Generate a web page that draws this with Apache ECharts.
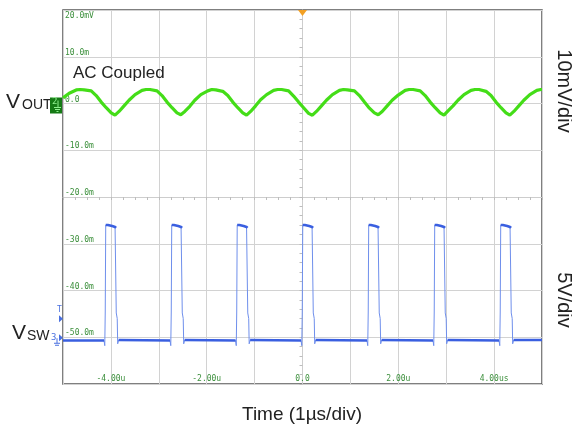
<!DOCTYPE html>
<html><head><meta charset="utf-8">
<script src="https://cdn.jsdelivr.net/npm/echarts@6/dist/echarts.min.js"></script>
<style>html,body{margin:0;padding:0;background:#fff}#c{width:572px;height:433px}</style>
</head><body><div id="c"></div>
<script>
// ---- data ----
const yTickValues = [20, 10, 0, -10, -20, -30, -40, -50];
const yTickLabels = ['20.0mV', '10.0m', '0.0', '-10.0m', '-20.0m', '-30.0m', '-40.0m', '-50.0m'];
const xTickValues = [-4, -2, 0, 2, 4];
const xTickLabels = ['-4.00u', '-2.00u', '0.0', '2.00u', '4.00us'];

// VOUT (channel 2, AC coupled), time in µs, value in mV
const vOutTime = [
  -5.000,-4.870,-4.724,-4.641,-4.557,-4.411,-4.307,-4.202,-4.098,-3.994,
  -3.914,-3.830,-3.726,-3.622,-3.496,-3.350,-3.267,-3.183,-3.037,-2.933,-2.828,-2.724,-2.620,
  -2.541,-2.457,-2.353,-2.249,-2.123,-1.977,-1.894,-1.810,-1.664,-1.560,-1.455,-1.351,-1.247,
  -1.167,-1.083,-0.979,-0.875,-0.749,-0.603,-0.520,-0.436,-0.290,-0.186,-0.081,0.023,0.127,
  0.207,0.291,0.395,0.499,0.625,0.771,0.854,0.938,1.084,1.188,1.293,1.397,1.501,
  1.580,1.664,1.768,1.872,1.998,2.144,2.227,2.311,2.457,2.561,2.666,2.770,2.874,
  2.954,3.038,3.142,3.246,3.372,3.518,3.601,3.685,3.831,3.935,4.040,4.144,4.248,
  4.328,4.412,4.516,4.620,4.746,4.892,4.975,5.000
];
const vOutMv = [
  1.2,2.2,2.9,3.0,2.9,2.7,1.7,0.3,-0.9,-2.0,
  -2.5,-1.7,-0.5,0.7,1.9,2.8,3.0,3.0,2.7,1.7,0.3,-0.9,-2.0,
  -2.4,-1.7,-0.6,0.7,1.9,2.7,3.0,2.9,2.6,1.7,0.3,-0.9,-2.0,
  -2.5,-1.7,-0.5,0.8,1.9,2.8,3.0,3.0,2.7,1.6,0.3,-0.9,-2.1,
  -2.5,-1.7,-0.5,0.7,1.9,2.8,3.0,2.9,2.7,1.7,0.3,-1.0,-2.0,
  -2.4,-1.7,-0.5,0.7,1.8,2.8,3.0,3.0,2.7,1.7,0.3,-0.9,-2.0,
  -2.5,-1.6,-0.5,0.7,1.9,2.8,3.0,3.0,2.6,1.7,0.3,-0.9,-2.0,
  -2.5,-1.7,-0.5,0.7,1.9,2.8,3.0,3.0
];

// VSW (channel 3), time in µs, value in V (5 V/div, ground on the -50 line)
const vswTime = [
  -5.000,
  -4.143,-4.128,-4.118,-4.108,-4.063,-4.023,-3.973,-3.913,-3.893,-3.888,-3.868,-3.858,-3.838,
  -2.765,-2.750,-2.740,-2.730,-2.685,-2.645,-2.595,-2.535,-2.515,-2.510,-2.490,-2.480,-2.460,
  -1.398,-1.383,-1.373,-1.363,-1.318,-1.278,-1.228,-1.168,-1.148,-1.143,-1.123,-1.113,-1.093,
  -0.030,-0.015,-0.005,0.005,0.050,0.090,0.140,0.200,0.220,0.225,0.245,0.255,0.275,
  1.347,1.362,1.372,1.382,1.427,1.467,1.517,1.577,1.597,1.602,1.622,1.632,1.652,
  2.725,2.740,2.750,2.760,2.805,2.845,2.895,2.955,2.975,2.980,3.000,3.010,3.030,
  4.103,4.118,4.128,4.138,4.183,4.223,4.273,4.333,4.353,4.358,4.378,4.388,4.408,
  5.000
];
const vswVolt = [
  -0.35,
  -0.35,-0.9,2.7,12.0,12.0,11.9,11.9,11.8,11.7,2.6,2.0,-0.7,-0.3,
  -0.35,-0.9,2.7,12.0,12.0,11.9,11.9,11.8,11.7,2.6,2.0,-0.7,-0.3,
  -0.35,-0.9,2.7,12.0,12.0,11.9,11.9,11.8,11.7,2.6,2.0,-0.7,-0.3,
  -0.35,-0.9,2.7,12.0,12.0,11.9,11.9,11.8,11.7,2.6,2.0,-0.7,-0.3,
  -0.35,-0.9,2.7,12.0,12.0,11.9,11.9,11.8,11.7,2.6,2.0,-0.7,-0.3,
  -0.35,-0.9,2.7,12.0,12.0,11.9,11.9,11.8,11.7,2.6,2.0,-0.7,-0.3,
  -0.35,-0.9,2.7,12.0,12.0,11.9,11.9,11.8,11.7,2.6,2.0,-0.7,-0.3,
  -0.3
];

// ---- build series data ----
const vOutData = vOutTime.map((t, i) => [t, vOutMv[i]]);
const vswData = vswTime.map((t, i) => [t, vswVolt[i]]);
// flat portions (low level and pulse tops) drawn thicker, edges thin
const isFlat = v => (v > -0.6 && v < 0.5) || v > 10;
const vswFlat = [];
for (let i = 0; i < vswData.length; i++) {
  const f = isFlat(vswData[i][1]);
  if (f) vswFlat.push(vswData[i]);
  else if (vswFlat.length && vswFlat[vswFlat.length - 1] !== null) vswFlat.push(null);
}
for (let i = 0; i < vswFlat.length; i++) {
  if (vswFlat[i] && vswFlat[i+1] && Math.abs(vswFlat[i][1] - vswFlat[i+1][1]) > 5) vswFlat.splice(i+1, 0, null);
}

const tickFont = {fontFamily: 'DejaVu Sans Mono', fontSize: 8, color: '#3b8f3b'};
const gridLine = {show: true, lineStyle: {color: '#d2d2d2', width: 1}};

const chart = echarts.init(document.getElementById('c'), null, {renderer: 'canvas'});
chart.setOption({
  animation: false,
  backgroundColor: '#fff',
  grid: {left: 63, top: 10, right: 30, bottom: 49, show: true, borderColor: '#555', borderWidth: 1.5},
  xAxis: [
    {type: 'value', min: -5, max: 5, interval: 1,
     axisLine: {show: false, onZero: false}, axisTick: {show: false}, splitLine: gridLine,
     axisLabel: Object.assign({inside: true, margin: 1, showMinLabel: false, showMaxLabel: false,
       formatter: v => { const i = xTickValues.indexOf(v); return i >= 0 ? xTickLabels[i] : ''; }}, tickFont)},
    {type: 'value', min: -5, max: 5, interval: 1,
     axisLine: {show: true, onZero: true, onZeroAxisIndex: 2, lineStyle: {color: '#cdcdcd', width: 1}},
     axisTick: {show: true, inside: true, length: 3, lineStyle: {color: '#bdbdbd'}},
     minorTick: {show: true, splitNumber: 4, length: 3, lineStyle: {color: '#bdbdbd'}},
     axisLabel: {show: false}, splitLine: {show: false}}
  ],
  yAxis: [
    {type: 'value', min: -60, max: 20, interval: 10,
     axisLine: {show: false, onZero: false}, axisTick: {show: false}, splitLine: gridLine,
     axisLabel: Object.assign({inside: true, margin: 2, verticalAlign: 'bottom', showMaxLabel: false, showMinLabel: false,
       formatter: v => { const i = yTickValues.indexOf(v); return (i > 0) ? yTickLabels[i] : ''; }}, tickFont)},
    {type: 'value', min: -5, max: 35, show: false},
    {type: 'value', min: -4, max: 4, interval: 1,
     axisLine: {show: true, onZero: true, onZeroAxisIndex: 0, lineStyle: {color: '#cdcdcd', width: 1}},
     axisTick: {show: true, inside: true, length: 3, lineStyle: {color: '#bdbdbd'}},
     minorTick: {show: true, splitNumber: 5, length: 3, lineStyle: {color: '#bdbdbd'}},
     axisLabel: {show: false}, splitLine: {show: false}}
  ],
  series: [
    {type: 'line', name: 'VSW edges', xAxisIndex: 0, yAxisIndex: 1, data: vswData, showSymbol: false,
     lineStyle: {color: '#6f8fec', width: 1}, z: 3},
    {type: 'line', name: 'VSW', xAxisIndex: 0, yAxisIndex: 1, data: vswFlat, showSymbol: false, connectNulls: false,
     lineStyle: {color: '#3a5fe0', width: 2.6}, z: 4},
    {type: 'line', name: 'VOUT', xAxisIndex: 0, yAxisIndex: 0, data: vOutData, showSymbol: false,
     lineStyle: {color: '#44dd18', width: 3.2}, z: 5}
  ]
});

// ---- annotations ----
const px = (x, y) => chart.convertToPixel({xAxisIndex: 0, yAxisIndex: 0}, [x, y]);
const topLbl = px(-5, yTickValues[0]);
const zeroV = px(-5, 0);
const gndSw = px(-5, -50);
const trig = px(0, 20);
const txt = '#222';
const blue = '#4a70e0';
chart.setOption({graphic: [
  {type: 'text', x: topLbl[0] + 2, y: topLbl[1] + 2, style: {text: yTickLabels[0], fill: tickFont.color,
     font: '8px "DejaVu Sans Mono"'}, z: 10},
  {type: 'text', x: 73, y: 73, style: {text: 'AC Coupled', font: '17px "Liberation Sans", Arial, sans-serif', fill: txt, verticalAlign: 'middle'}},
  {type: 'text', x: 6, y: zeroV[1] - 1, style: {text: 'V', font: '21px "Liberation Sans", Arial, sans-serif', fill: txt, verticalAlign: 'middle'}},
  {type: 'text', x: 22, y: zeroV[1] + 2, style: {text: 'OUT', font: '14px "Liberation Sans", Arial, sans-serif', fill: txt, verticalAlign: 'middle'}},
  {type: 'text', x: 12, y: gndSw[1] - 4, style: {text: 'V', font: '21px "Liberation Sans", Arial, sans-serif', fill: txt, verticalAlign: 'middle'}},
  {type: 'text', x: 27, y: gndSw[1] - 1, style: {text: 'SW', font: '14px "Liberation Sans", Arial, sans-serif', fill: txt, verticalAlign: 'middle'}},
  // channel 2 marker
  {type: 'rect', shape: {x: 50, y: zeroV[1] - 6, width: 12, height: 16}, style: {fill: '#157a15'}, z: 10},
  {type: 'text', x: 52, y: zeroV[1] - 6, style: {text: '2', font: '9px "DejaVu Sans Mono"', fill: '#8ff08f'}, z: 11},
  {type: 'polyline', shape: {points: [[58, zeroV[1] - 3], [58, zeroV[1] + 4]]}, style: {stroke: '#8ff08f', lineWidth: 1}, z: 11},
  {type: 'polyline', shape: {points: [[54, zeroV[1] + 4], [61, zeroV[1] + 4]]}, style: {stroke: '#8ff08f', lineWidth: 1}, z: 11},
  {type: 'polyline', shape: {points: [[55, zeroV[1] + 6], [60, zeroV[1] + 6]]}, style: {stroke: '#8ff08f', lineWidth: 1}, z: 11},
  {type: 'polyline', shape: {points: [[56.5, zeroV[1] + 8], [58.5, zeroV[1] + 8]]}, style: {stroke: '#8ff08f', lineWidth: 1}, z: 11},
  // channel 3 / trigger markers
  {type: 'text', x: 57, y: gndSw[1] - 31, style: {text: 'T', font: '8px "DejaVu Sans Mono"', fill: blue}},
  {type: 'polygon', shape: {points: [[59, gndSw[1] - 22], [59, gndSw[1] - 15], [63, gndSw[1] - 18.5]]}, style: {fill: blue}},
  {type: 'text', x: 51, y: gndSw[1] - 4, style: {text: '3', font: '9px "DejaVu Sans Mono"', fill: blue}},
  {type: 'polygon', shape: {points: [[59, gndSw[1] - 3], [59, gndSw[1] + 4], [63, gndSw[1] + 0.5]]}, style: {fill: blue}},
  {type: 'polyline', shape: {points: [[57, gndSw[1] + 1], [57, gndSw[1] + 6]]}, style: {stroke: blue, lineWidth: 1}},
  {type: 'polyline', shape: {points: [[54, gndSw[1] + 6], [60, gndSw[1] + 6]]}, style: {stroke: blue, lineWidth: 1}},
  {type: 'polyline', shape: {points: [[55, gndSw[1] + 8], [59, gndSw[1] + 8]]}, style: {stroke: blue, lineWidth: 1}},
  {type: 'polygon', shape: {points: [[trig[0] - 4.5, trig[1]], [trig[0] + 4.5, trig[1]], [trig[0], trig[1] + 6]]}, style: {fill: '#f2a024'}, z: 12},
  // right side and bottom titles
  {type: 'text', x: 564, y: 91, rotation: -Math.PI / 2, style: {text: '10mV/div', font: '20px "Liberation Sans", Arial, sans-serif', fill: txt, align: 'center', verticalAlign: 'middle'}},
  {type: 'text', x: 564, y: 300, rotation: -Math.PI / 2, style: {text: '5V/div', font: '20px "Liberation Sans", Arial, sans-serif', fill: txt, align: 'center', verticalAlign: 'middle'}},
  {type: 'text', x: 302, y: 415, style: {text: 'Time (1µs/div)', font: '19px "Liberation Sans", Arial, sans-serif', fill: txt, align: 'center', verticalAlign: 'middle'}}
]});
</script>
</body></html>
